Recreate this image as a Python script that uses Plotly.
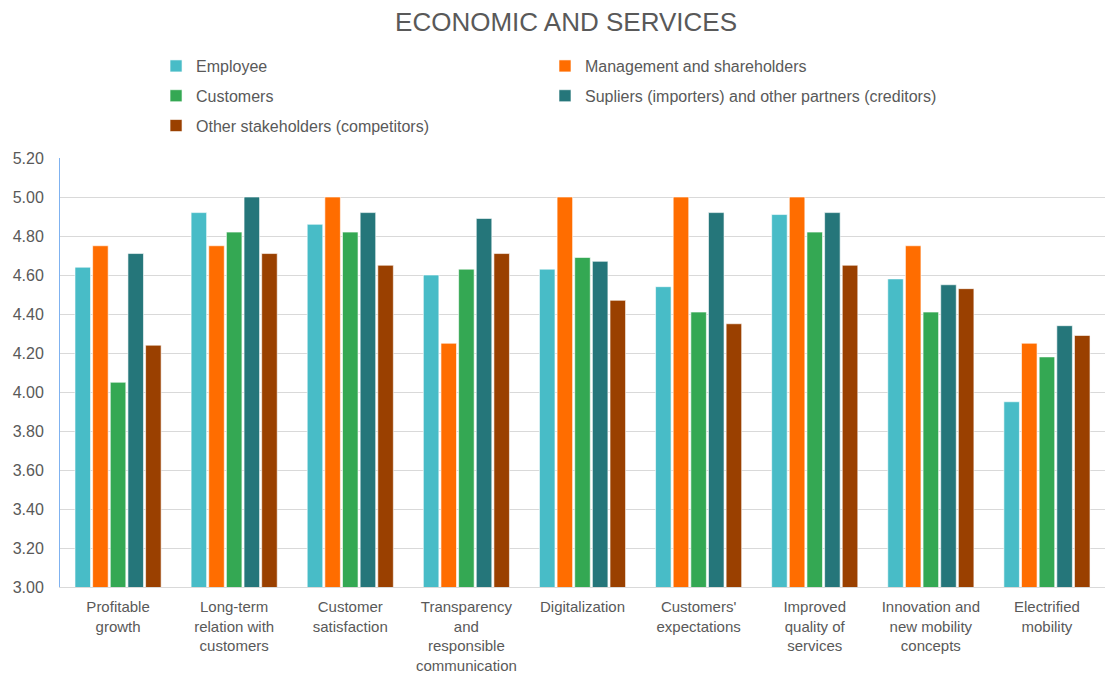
import plotly.graph_objects as go

categories = [
    "Profitable<br>growth",
    "Long-term<br>relation with<br>customers",
    "Customer<br>satisfaction",
    "Transparency<br>and<br>responsible<br>communication",
    "Digitalization",
    "Customers'<br>expectations",
    "Improved<br>quality of<br>services",
    "Innovation and<br>new mobility<br>concepts",
    "Electrified<br>mobility",
]

employee = [4.64, 4.92, 4.86, 4.60, 4.63, 4.54, 4.91, 4.58, 3.95]
management = [4.75, 4.75, 5.00, 4.25, 5.00, 5.00, 5.00, 4.75, 4.25]
customers = [4.05, 4.82, 4.82, 4.63, 4.69, 4.41, 4.82, 4.41, 4.18]
suppliers = [4.71, 5.00, 4.92, 4.89, 4.67, 4.92, 4.92, 4.55, 4.34]
other = [4.24, 4.71, 4.65, 4.71, 4.47, 4.35, 4.65, 4.53, 4.29]

series_names = [
    "Employee",
    "Management and shareholders",
    "Customers",
    "Supliers (importers) and other partners (creditors)",
    "Other stakeholders (competitors)",
]
series_values = [employee, management, customers, suppliers, other]
series_colors = ["#48BCC7", "#FF6D00", "#34A853", "#25767A", "#9A4000"]
# left legend column / right legend column
series_legend = ["legend", "legend2", "legend", "legend2", "legend"]

tick_values = [3.00, 3.20, 3.40, 3.60, 3.80, 4.00, 4.20, 4.40, 4.60, 4.80, 5.00, 5.20]

fig = go.Figure()
for name, vals, color, lg in zip(series_names, series_values, series_colors, series_legend):
    fig.add_trace(go.Bar(
        name=name,
        x=categories,
        y=vals,
        legend=lg,
        legendgroup=name,
        marker=dict(color=color, line=dict(color="rgba(255,255,255,0.6)", width=1)),
    ))

font_family = "Liberation Sans, Arial, sans-serif"
legend_common = dict(
    orientation="v",
    yanchor="top",
    xanchor="left",
    traceorder="grouped",
    tracegroupgap=6,
    font=dict(size=16, color="#595959", family=font_family),
    bgcolor="rgba(0,0,0,0)",
)

fig.update_layout(
    width=1120,
    height=675,
    margin=dict(l=60, r=15, t=158, b=88, autoexpand=False),
    paper_bgcolor="white",
    plot_bgcolor="white",
    barmode="group",
    bargap=0.24,
    bargroupgap=0.12,
    font=dict(family=font_family, color="#595959", size=15),
    title=dict(
        text="ECONOMIC AND SERVICES",
        x=0.5054, xanchor="center", xref="container",
        y=0.967, yanchor="middle",
        font=dict(size=26, color="#595959", family=font_family),
    ),
    legend=dict(x=0.0919, y=1.254, **legend_common),
    legend2=dict(x=0.4641, y=1.254, **legend_common),
    showlegend=True,
)

fig.update_yaxes(
    range=[3.0, 5.2],
    tickvals=tick_values,
    tickformat=".2f",
    showgrid=True,
    gridcolor="#D9D9D9",
    gridwidth=1,
    showline=True,
    linecolor="#7FB2F0",
    linewidth=1,
    ticks="",
    zeroline=False,
    automargin=False,
    ticklabelstandoff=12,
    tickfont=dict(size=16, color="#595959"),
)
fig.update_xaxes(
    showline=True,
    linecolor="#D9D9D9",
    linewidth=1,
    ticks="",
    automargin=False,
    ticklabelstandoff=6,
    tickfont=dict(size=15, color="#595959"),
    tickangle=0,
)

fig.write_html("out.html")
